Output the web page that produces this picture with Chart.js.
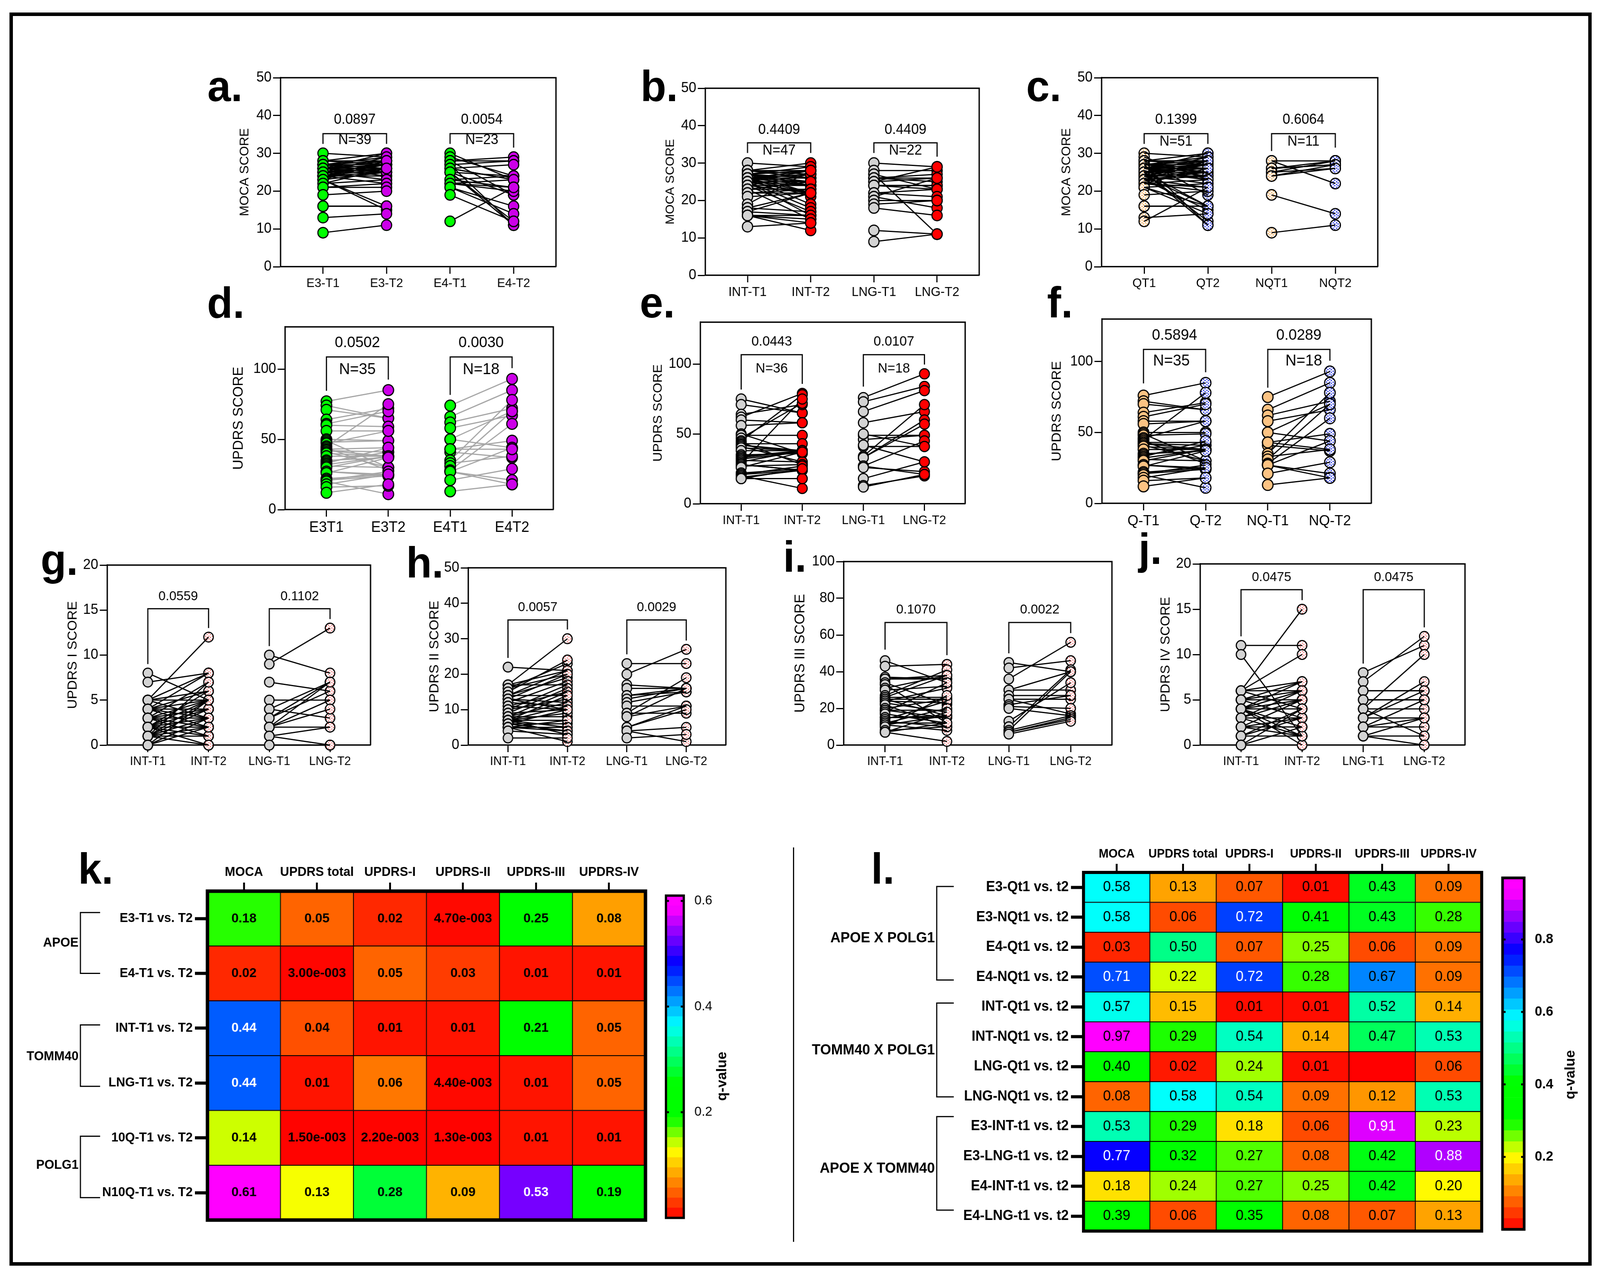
<!DOCTYPE html>
<html lang="en">
  <head>
    <meta charset="UTF-8" />
    <title>MOCA and UPDRS scores</title>
    <script src="https://cdn.jsdelivr.net/npm/chart.js"></script>
    <style>
      html, body { margin: 0; padding: 0; background: #fff; overflow: hidden; }
      #page { position: relative; width: 4219px; height: 3270px; overflow: hidden; background: #fff; transform-origin: 0 0; }
      #frame { position: absolute; left: 25px; top: 32px; width: 4154px; height: 3191px; border: 9px solid #000; }
      #divider { position: absolute; left: 2091px; top: 2170px; width: 3px; height: 1010px; background: #000; }
      canvas { position: absolute; }
      .letter { position: absolute; font: bold 111px "Liberation Sans"; line-height: 1; color: #000; }
    </style>
  </head>
  <body>
    <div id="page">
      <div id="frame"></div>
      <div id="divider"></div>
    </div>
    <script>
      // panel a
      const aLabels = ["E3-T1", "E3-T2", "E4-T1", "E4-T2"];
      const aE3T1 = [30,28,28,28,27,27,27,27,27,26,26,26,26,26,26,25,25,25,25,25,24,24,24,24,24,24,23,23,23,23,22,22,21,21,19,16,16,13,9];
      const aE3T2 = [29,30,28,27,26,29,28,27,25,30,28,27,26,25,24,29,27,26,25,23,28,27,26,25,24,22,28,25,15,16,26,23,22,21,20,16,16,14,11];
      const aE4T1 = [30,29,28,28,28,27,27,26,26,26,25,25,25,25,23,23,22,22,22,21,21,19,12];
      const aE4T2 = [23,24,29,28,19,28,11,27,23,23,24,19,12,11,24,21,23,21,20,16,14,12,21];
      // panel b
      const bLabels = ["INT-T1", "INT-T2", "LNG-T1", "LNG-T2"];
      const bIntT1 = [30,28,28,28,28,27,27,27,27,27,27,27,26,26,26,26,26,26,26,26,26,25,25,25,25,25,25,24,24,24,24,23,23,23,22,22,21,19,18,18,17,17,16,16,16,16,13];
      const bIntT2 = [29,30,28,27,26,29,28,28,26,25,22,24,28,27,27,26,25,24,22,21,19,28,25,24,22,18,16,27,24,22,17,25,23,15,23,22,22,28,22,17,22,16,16,15,12,14,14];
      const bLngT1 = [30,28,27,27,26,26,26,25,25,24,24,24,22,22,21,21,20,20,19,18,12,9];
      const bLngT2 = [29,28,23,11,26,25,27,29,26,24,24,23,23,21,26,18,20,20,20,16,11,11];
      // panel c
      const cLabels = ["QT1", "QT2", "NQT1", "NQT2"];
      const cQT1 = [30,29,28,28,28,28,28,27,27,27,27,27,27,26,26,26,26,26,26,26,25,25,25,25,25,25,25,25,24,24,24,24,24,24,23,23,23,23,23,22,22,22,22,21,21,21,19,16,16,13,12];
      const cQT2 = [29,23,30,28,28,27,19,29,28,27,26,25,11,30,28,27,26,25,24,23,29,27,26,25,23,16,12,11,28,27,25,24,22,16,28,25,24,21,15,26,23,20,21,22,16,14,20,16,16,14,21];
      const cNqT1 = [28,28,26,26,26,25,25,24,24,19,9];
      const cNqT2 = [28,22,28,27,27,28,26,27,26,14,11];
      // panel d
      const dLabels = ["E3T1", "E3T2", "E4T1", "E4T2"];
      const dE3T1 = [77,74,71,64,61,60,56,50,49,48,47,45,44,43,42,42,41,40,38,35,34,33,32,31,30,27,27,26,22,21,21,20,18,16,12];
      const dE3T2 = [85,65,65,72,70,59,56,49,30,49,56,75,28,44,38,41,30,38,38,37,41,44,38,30,38,25,24,37,25,27,24,11,25,17,18];
      const dE4T1 = [74,66,62,58,50,50,43,41,35,33,31,28,27,27,27,21,13,43];
      const dE4T2 = [93,85,72,67,70,44,49,37,78,38,70,61,44,21,18,29,18,43];
      // panel e
      const eLabels = ["INT-T1", "INT-T2", "LNG-T1", "LNG-T2"];
      const eIntT1 = [75,71,64,62,60,56,50,49,47,45,44,43,42,42,41,40,38,35,34,33,32,31,30,29,28,28,27,26,22,21,21,20,19,18,18,18];
      const eIntT2 = [65,65,71,79,58,58,36,49,72,78,28,43,38,37,30,38,38,36,38,38,37,30,38,75,24,24,28,37,25,24,27,11,24,18,18,25];
      const eLngT1 = [76,73,66,58,49,46,41,42,34,33,33,27,27,26,18,13,12,50];
      const eLngT2 = [93,84,81,66,49,49,41,30,71,60,57,45,21,23,30,20,21,41];
      // panel f
      const fLabels = ["Q-T1", "Q-T2", "NQ-T1", "NQ-T2"];
      const fQT1 = [76,72,70,64,61,58,56,50,49,48,46,45,44,43,42,42,41,40,38,35,34,33,32,31,30,27,27,26,22,21,21,20,18,16,12];
      const fQT2 = [85,66,66,71,70,58,58,50,30,49,58,78,28,43,38,41,30,38,38,37,41,44,38,30,38,25,24,37,25,27,24,11,25,18,18];
      const fNqT1 = [75,66,62,58,50,50,43,41,35,33,31,28,27,27,27,21,13,43];
      const fNqT2 = [93,85,72,66,70,44,49,37,78,38,70,60,44,21,18,29,18,38];
      // panel g
      const gLabels = ["INT-T1", "INT-T2", "LNG-T1", "LNG-T2"];
      const gIntT1 = [8,7,5,5,5,5,5,4,4,4,4,4,4,3,3,3,3,3,3,2,2,2,2,2,2,2,1,1,1,1,1,1,1,0,0,0];
      const gIntT2 = [5,8,12,8,6,5,3,8,6,5,4,3,2,7,5,4,3,2,1,6,5,4,3,2,1,0,7,5,4,3,2,1,0,5,3,2];
      const gLngT1 = [10,9,7,5,4,4,3,3,2,2,2,2,1,1,0];
      const gLngT2 = [8,13,6,5,7,3,7,6,7,5,4,2,2,0,0];
      // panel h
      const hLabels = ["INT-T1", "INT-T2", "LNG-T1", "LNG-T2"];
      const hIntT1 = [22,17,17,17,16,16,15,14,14,14,13,13,13,12,12,11,11,10,10,9,9,8,8,8,7,7,7,7,7,7,6,6,6,5,5,5,5,4,2];
      const hIntT2 = [21,30,21,17,23,20,24,21,19,14,20,12,10,18,11,15,10,17,13,16,10,15,12,8,14,11,9,7,5,3,10,6,4,7,5,4,1,3,2];
      const hLngT1 = [23,20,17,16,14,14,13,12,11,9,9,8,8,5,5,4,4,2];
      const hLngT2 = [23,27,16,16,15,16,16,15,11,19,9,11,16,11,10,5,1,3];
      // panel i
      const iLabels = ["INT-T1", "INT-T2", "LNG-T1", "LNG-T2"];
      const iIntT1 = [46,43,37,36,36,34,33,31,30,27,26,26,25,25,24,24,23,22,20,19,19,18,17,15,15,14,13,12,12,11,11,10,8,7,7,7];
      const iIntT2 = [34,44,36,36,38,22,12,38,32,41,38,26,25,16,31,23,18,10,25,19,15,34,12,15,16,24,10,20,12,16,8,27,10,12,2,18];
      const iLngT1 = [45,42,36,30,30,27,25,25,22,21,20,13,10,8,8,7,7,6];
      const iLngT2 = [40,46,56,30,40,27,25,17,27,20,16,34,41,40,16,15,14,13];
      // panel j
      const jLabels = ["INT-T1", "INT-T2", "LNG-T1", "LNG-T2"];
      const jIntT1 = [11,10,6,6,6,6,6,5,5,5,5,4,4,4,4,4,4,4,3,3,3,3,2,2,2,2,1,1,1,0,0];
      const jIntT2 = [11,1,15,10,7,6,4,7,6,5,3,7,6,5,4,2,1,0,6,5,3,1,5,3,2,1,4,3,1,4,2];
      const jLngT1 = [8,7,6,6,5,5,4,4,4,3,3,3,2,2,2,1,1,1];
      const jLngT2 = [11,12,6,6,5,5,10,4,1,7,6,3,5,3,2,3,1,0];

      // heatmap k
      const kRows = ["E3-T1 vs. T2", "E4-T1 vs. T2", "INT-T1 vs. T2", "LNG-T1 vs. T2", "10Q-T1 vs. T2", "N10Q-T1 vs. T2"];
      const kCols = ["MOCA", "UPDRS total", "UPDRS-I", "UPDRS-II", "UPDRS-III", "UPDRS-IV"];
      const kValues = [
        [0.18, 0.05, 0.02, 0.0047, 0.25, 0.08],
        [0.02, 0.003, 0.05, 0.03, 0.01, 0.01],
        [0.44, 0.04, 0.01, 0.01, 0.21, 0.05],
        [0.44, 0.01, 0.06, 0.0044, 0.01, 0.05],
        [0.14, 0.0015, 0.0022, 0.0013, 0.01, 0.01],
        [0.61, 0.13, 0.28, 0.09, 0.53, 0.19],
      ];
      const kTicks = [0.2, 0.4, 0.6];
      // heatmap l
      const lRows = ["E3-Qt1 vs. t2", "E3-NQt1 vs. t2", "E4-Qt1 vs. t2", "E4-NQt1 vs. t2", "INT-Qt1 vs. t2", "INT-NQt1 vs. t2", "LNG-Qt1 vs. t2", "LNG-NQt1 vs. t2", "E3-INT-t1 vs. t2", "E3-LNG-t1 vs. t2", "E4-INT-t1 vs. t2", "E4-LNG-t1 vs. t2"];
      const lCols = ["MOCA", "UPDRS total", "UPDRS-I", "UPDRS-II", "UPDRS-III", "UPDRS-IV"];
      const lValues = [
        [0.58, 0.13, 0.07, 0.01, 0.43, 0.09],
        [0.58, 0.06, 0.72, 0.41, 0.43, 0.28],
        [0.03, 0.50, 0.07, 0.25, 0.06, 0.09],
        [0.71, 0.22, 0.72, 0.28, 0.67, 0.09],
        [0.57, 0.15, 0.01, 0.01, 0.52, 0.14],
        [0.97, 0.29, 0.54, 0.14, 0.47, 0.53],
        [0.40, 0.02, 0.24, 0.01, null, 0.06],
        [0.08, 0.58, 0.54, 0.09, 0.12, 0.53],
        [0.53, 0.29, 0.18, 0.06, 0.91, 0.23],
        [0.77, 0.32, 0.27, 0.08, 0.42, 0.88],
        [0.18, 0.24, 0.27, 0.25, 0.42, 0.20],
        [0.39, 0.06, 0.35, 0.08, 0.07, 0.13],
      ];
      const lTicks = [0.2, 0.4, 0.6, 0.8];

      Chart.defaults.font.family = '"Liberation Sans"';
      Chart.defaults.color = "#000";

      const page = document.getElementById("page");
      // the window can come out narrower than the 4219 layout, so squeeze to fit
      page.style.transform = "scaleX(" + Math.min(1, window.innerWidth / 4219) + ")";

      function addCanvas(left, top, width, height) {
        const c = document.createElement("canvas");
        c.width = width;
        c.height = height;
        c.style.left = left + "px";
        c.style.top = top + "px";
        c.style.width = width + "px";
        c.style.height = height + "px";
        page.appendChild(c);
        return c;
      }

      // white marker fill with small coloured flecks
      function fleck(color, size) {
        const c = document.createElement("canvas");
        c.width = 9;
        c.height = 7;
        const g = c.getContext("2d");
        g.fillStyle = "#fff";
        g.fillRect(0, 0, 9, 7);
        g.fillStyle = color;
        g.fillRect(1, 1, size, size);
        g.fillRect(5, 4, size, size);
        return g.createPattern(c, "repeat");
      }
      const redFleck = fleck("#f01010", 2);
      const blueFleck = fleck("#2030e0", 3);
      const peachFleck = fleck("#f5a850", 3);

      const GREEN = "#00ff00", PURPLE = "#cc00e8", GREY = "#d3d3d3", RED = "#ff0000", PEACH = "#fcc383";

      const panels = [
        { letter: "a.", lx: 547, ly: 260, box: [740, 199, 1466, 683], max: 50, ticks: [0,10,20,30,40,50], labels: aLabels, title: "MOCA SCORE", titleX: 646, g1: [aE3T1, aE3T2], g2: [aE4T1, aE4T2], fills: [GREEN, PURPLE], fonts: { tick: 36, x: 32, title: 33, p: 36, n: 36 }, p: ["0.0897", "0.0054"], n: ["N=39", "N=23"], top: 35.2, legs: [32.5, 32.5, 32.5, 31.5], pY: 38.8, nY: 33.5, r: 13.5 },
        { letter: "b.", lx: 1689, ly: 260, box: [1860, 226, 2582, 705], max: 50, ticks: [0,10,20,30,40,50], labels: bLabels, title: "MOCA SCORE", titleX: 1768, g1: [bIntT1, bIntT2], g2: [bLngT1, bLngT2], fills: [GREY, RED], fonts: { tick: 36, x: 33, title: 32, p: 36, n: 36 }, p: ["0.4409", "0.4409"], n: ["N=47", "N=22"], top: 35.4, legs: [32.7, 32.7, 32.7, 31.7], pY: 38.8, nY: 33.3, r: 13.5 },
        { letter: "c.", lx: 2706, ly: 260, box: [2905, 199, 3633, 683], max: 50, ticks: [0,10,20,30,40,50], labels: cLabels, title: "MOCA SCORE", titleX: 2813, g1: [cQT1, cQT2], g2: [cNqT1, cNqT2], fills: [peachFleck, blueFleck], fonts: { tick: 36, x: 32, title: 33, p: 36, n: 36 }, p: ["0.1399", "0.6064"], n: ["N=51", "N=11"], top: 35.2, legs: [32.5, 32.5, 30.6, 31.5], pY: 38.8, nY: 33, r: 13.5, linesOver: [true, true] },
        { letter: "d.", lx: 546, ly: 815, box: [752, 837, 1459, 1305], max: 130, ticks: [0,50,100], labels: dLabels, title: "UPDRS SCORE", titleX: 630, g1: [dE3T1, dE3T2], g2: [dE4T1, dE4T2], fills: [GREEN, PURPLE], lineColor: "#a6a6a6", fonts: { tick: 36, x: 38, title: 36, p: 39, n: 40 }, p: ["0.0502", "0.0030"], n: ["N=35", "N=18"], top: 108.6, legs: [84.5, 92.5, 81.6, 100.6], pY: 118.6, nY: 99.4, r: 14 },
        { letter: "e.", lx: 1687, ly: 814, box: [1847, 825, 2545, 1290], max: 130, ticks: [0,50,100], labels: eLabels, title: "UPDRS SCORE", titleX: 1735, g1: [eIntT1, eIntT2], g2: [eLngT1, eLngT2], fills: [GREY, RED], fonts: { tick: 36, x: 32, title: 34, p: 35, n: 35 }, p: ["0.0443", "0.0107"], n: ["N=36", "N=18"], top: 106.7, legs: [81.8, 85.8, 83.9, 99.7], pY: 116, nY: 96.7, r: 13 },
        { letter: "f.", lx: 2761, ly: 814, box: [2906, 817, 3616, 1289], max: 130, ticks: [0,50,100], labels: fLabels, title: "UPDRS SCORE", titleX: 2787, g1: [fQT1, fQT2], g2: [fNqT1, fNqT2], fills: [PEACH, blueFleck], fonts: { tick: 36, x: 37, title: 35, p: 39, n: 40 }, p: ["0.5894", "0.0289"], n: ["N=35", "N=18"], top: 108.6, legs: [84.6, 92.5, 81.6, 100.6], pY: 118.5, nY: 100.3, r: 14, nDx: [-0.05, 0.08], linesOver: [false, true] },
        { letter: "g.", lx: 107, ly: 1473, box: [283, 1447, 977, 1908], max: 20, ticks: [0,5,10,15,20], labels: gLabels, title: "UPDRS I SCORE", titleX: 192, g1: [gIntT1, gIntT2], g2: [gLngT1, gLngT2], fills: [GREY, redFleck], fonts: { tick: 36, x: 31, title: 35, p: 34, n: 34 }, p: ["0.0559", "0.1102"], n: [], top: 15.15, legs: [9, 13, 11, 14], pY: 16.5, r: 12.5, linesOver: [false, true] },
        { letter: "h.", lx: 1071, ly: 1480, box: [1235, 1454, 1914, 1908], max: 50, ticks: [0,10,20,30,40,50], labels: hLabels, title: "UPDRS II SCORE", titleX: 1146, g1: [hIntT1, hIntT2], g2: [hLngT1, hLngT2], fills: [GREY, redFleck], fonts: { tick: 36, x: 31, title: 35, p: 34, n: 34 }, p: ["0.0057", "0.0029"], n: [], top: 35.3, legs: [24.6, 32.6, 25.6, 29.5], pY: 38.8, r: 12.5, linesOver: [false, true] },
        { letter: "i.", lx: 2065, ly: 1465, box: [2225, 1438, 2932, 1908], max: 100, ticks: [0,20,40,60,80,100], labels: iLabels, title: "UPDRS III SCORE", titleX: 2111, g1: [iIntT1, iIntT2], g2: [iLngT1, iLngT2], fills: [GREY, redFleck], fonts: { tick: 36, x: 31, title: 36, p: 34, n: 34 }, p: ["0.1070", "0.0022"], n: [], top: 66.8, legs: [52, 49, 50, 61], pY: 73.6, r: 12.5, linesOver: [false, true] },
        { letter: "j.", lx: 3002, ly: 1445, box: [3165, 1444, 3863, 1908], max: 20, ticks: [0,5,10,15,20], labels: jLabels, title: "UPDRS IV SCORE", titleX: 3075, g1: [jIntT1, jIntT2], g2: [jLngT1, jLngT2], fills: [GREY, redFleck], fonts: { tick: 36, x: 31, title: 34.5, p: 34, n: 34 }, p: ["0.0475", "0.0475"], n: [], top: 17.15, legs: [12, 16, 9, 13], pY: 18.5, r: 12.5, linesOver: [false, true] },
      ];

      function addLetter(text, x, baseline) {
        const d = document.createElement("div");
        d.className = "letter";
        d.textContent = text;
        d.style.left = x + "px";
        d.style.top = baseline - 94 + "px";
        page.appendChild(d);
      }

      function drawSlopePanel(p) {
        const [x0, y0, x1, y1] = p.box;
        const marginT = 30, marginR = 30, marginB = 90;
        const canvasLeft = Math.round(p.titleX - 0.6 * p.fonts.title);
        const marginL = x0 - canvasLeft;
        const canvas = addCanvas(canvasLeft, y0 - marginT, x1 - canvasLeft + marginR, y1 - y0 + marginT + marginB);

        const datasets = [];
        const over = p.linesOver || [false, false];
        [p.g1, p.g2].forEach((group, g) => {
          const xa = g * 2, xb = g * 2 + 1;
          group[0].forEach((v, i) => {
            datasets.push({
              data: [{ x: xa, y: v }, { x: xb, y: group[1][i] }],
              showLine: true,
              borderColor: p.lineColor || "#000",
              borderWidth: 3,
              pointRadius: 0,
              order: 20,
              clip: false,
            });
          });
          [xa, xb].forEach((xv, side) => {
            datasets.push({
              data: group[side].map((v) => ({ x: xv, y: v })),
              showLine: false,
              pointRadius: p.r,
              pointBackgroundColor: p.fills[side],
              pointBorderColor: "#000",
              pointBorderWidth: 3,
              order: over[side] ? 30 : 10,
              clip: false,
            });
          });
        });

        const marks = {
          id: "marks",
          afterDraw(chart) {
            const ctx = chart.ctx, xs = chart.scales.x, ys = chart.scales.y, a = chart.chartArea;
            ctx.save();
            ctx.strokeStyle = "#000";
            ctx.lineWidth = 3.5;
            ctx.beginPath();
            ctx.moveTo(a.left, a.top);
            ctx.lineTo(a.right, a.top);
            ctx.lineTo(a.right, a.bottom);
            ctx.stroke();
            ctx.textAlign = "center";
            ctx.textBaseline = "middle";
            ctx.fillStyle = "#000";
            [0, 1].forEach((g) => {
              const xl = xs.getPixelForValue(g * 2), xr = xs.getPixelForValue(g * 2 + 1);
              const yt = ys.getPixelForValue(p.top);
              ctx.lineWidth = 3;
              ctx.beginPath();
              ctx.moveTo(xl, ys.getPixelForValue(p.legs[g * 2]));
              ctx.lineTo(xl, yt);
              ctx.lineTo(xr, yt);
              ctx.lineTo(xr, ys.getPixelForValue(p.legs[g * 2 + 1]));
              ctx.stroke();
              const mid = g * 2 + 0.5;
              ctx.font = p.fonts.p + 'px "Liberation Sans"';
              ctx.fillText(p.p[g], xs.getPixelForValue(mid), ys.getPixelForValue(p.pY));
              if (p.n[g]) {
                const dx = p.nDx ? p.nDx[g] : 0;
                ctx.font = p.fonts.n + 'px "Liberation Sans"';
                ctx.fillText(p.n[g], xs.getPixelForValue(mid + dx), ys.getPixelForValue(p.nY));
              }
            });
            ctx.restore();
          },
        };

        new Chart(canvas.getContext("2d"), {
          type: "scatter",
          data: { datasets },
          plugins: [marks],
          options: {
            responsive: false,
            animation: false,
            devicePixelRatio: 1,
            layout: { padding: { top: marginT, right: marginR } },
            plugins: { legend: { display: false }, tooltip: { enabled: false } },
            scales: {
              x: {
                type: "linear",
                min: -2 / 3,
                max: 3 + 2 / 3,
                afterBuildTicks: (s) => { s.ticks = p.labels.map((_, i) => ({ value: i })); },
                afterFit: (s) => { s.height = marginB; },
                ticks: { callback: (v) => p.labels[v], font: { size: p.fonts.x }, padding: 6, maxRotation: 0, autoSkip: false },
                grid: { drawOnChartArea: false, tickLength: 18, tickWidth: 3, tickColor: "#000" },
                border: { color: "#000", width: 3.5 },
              },
              y: {
                min: 0,
                max: p.max,
                afterBuildTicks: (s) => { s.ticks = p.ticks.map((v) => ({ value: v })); },
                afterFit: (s) => { s.width = marginL; },
                ticks: { font: { size: p.fonts.tick }, padding: 4, autoSkip: false },
                grid: { drawOnChartArea: false, tickLength: 20, tickWidth: 3, tickColor: "#000" },
                border: { color: "#000", width: 3.5 },
                title: { display: true, text: p.title, font: { size: p.fonts.title }, padding: 0 },
              },
            },
          },
        });
        addLetter(p.letter, p.lx, p.ly);
      }

      panels.forEach(drawSlopePanel);

      // rainbow used by both heatmaps: red, yellow, green, cyan, blue, magenta
      const STOPS = [
        [0, 255, 0, 0], [0.21, 255, 255, 0], [0.31, 0, 255, 0], [0.42, 0, 255, 0],
        [0.6, 0, 255, 255], [0.79, 0, 0, 255], [0.96, 255, 0, 255], [1, 255, 0, 255],
      ];
      const LEVELS = 32;
      function rainbow(t) {
        let i = 0;
        while (i < STOPS.length - 2 && t > STOPS[i + 1][0]) i++;
        const a = STOPS[i], b = STOPS[i + 1], u = (t - a[0]) / (b[0] - a[0]);
        const mix = (k) => Math.round(a[k] + (b[k] - a[k]) * u);
        return "rgb(" + mix(1) + "," + mix(2) + "," + mix(3) + ")";
      }

      // 4.70e-003 style for the small q-values
      function formatQ(q) {
        if (q === null) return "";
        if (q >= 0.0095) return q.toFixed(2);
        const [m, e] = q.toExponential(2).split("e-");
        return m + "e-" + e.padStart(3, "0");
      }

      function drawHeatmap(h) {
        const [x0, y0, x1, y1] = h.box;
        const marginL = x0 - h.canvasLeft, marginT = 90, marginB = 20, marginR = 20;
        const canvas = addCanvas(h.canvasLeft, y0 - marginT, x1 - h.canvasLeft + marginR, y1 - y0 + marginT + marginB);

        const datasets = h.cols.map((_, c) => ({
          data: h.rows.map(() => 1),
          backgroundColor: h.rows.map((_, r) => rainbow((h.values[r][c] || 0) / h.qMax)),
          borderColor: "#000",
          borderWidth: 1.5,
          borderSkipped: false,
          barPercentage: 1,
          categoryPercentage: 1,
        }));

        const marks = {
          id: "marks",
          afterDraw(chart) {
            const ctx = chart.ctx, xs = chart.scales.x, ys = chart.scales.y, a = chart.chartArea;
            ctx.save();
            ctx.textAlign = "center";
            ctx.textBaseline = "middle";
            ctx.font = h.cellFont;
            h.values.forEach((row, r) => {
              row.forEach((q, c) => {
                const f = (q || 0) / h.qMax;
                ctx.fillStyle = f > 0.7 && f < 0.98 ? "#fff" : "#000";
                ctx.fillText(formatQ(q), xs.getPixelForValue(c + 0.5), ys.getPixelForValue(r));
              });
            });
            ctx.strokeStyle = "#000";
            ctx.lineWidth = h.border;
            ctx.strokeRect(a.left, a.top, a.right - a.left, a.bottom - a.top);
            ctx.lineWidth = 3;
            ctx.fillStyle = "#000";
            ctx.textAlign = "right";
            ctx.font = h.groupFont;
            h.groups.forEach((g) => {
              const bx0 = h.bracketX[0] - h.canvasLeft, bx1 = h.bracketX[1] - h.canvasLeft;
              ctx.beginPath();
              ctx.moveTo(bx1, ys.getPixelForValue(g.from));
              ctx.lineTo(bx0, ys.getPixelForValue(g.from));
              ctx.lineTo(bx0, ys.getPixelForValue(g.to));
              ctx.lineTo(bx1, ys.getPixelForValue(g.to));
              ctx.stroke();
              ctx.fillText(g.name, bx0 - 5, ys.getPixelForValue(g.at));
            });
            ctx.restore();
          },
        };

        new Chart(canvas.getContext("2d"), {
          type: "bar",
          data: { labels: h.rows, datasets },
          plugins: [marks],
          options: {
            indexAxis: "y",
            responsive: false,
            animation: false,
            devicePixelRatio: 1,
            layout: { padding: { right: marginR, bottom: marginB } },
            plugins: { legend: { display: false }, tooltip: { enabled: false } },
            scales: {
              x: {
                position: "top",
                stacked: true,
                min: 0,
                max: h.cols.length,
                afterBuildTicks: (s) => { s.ticks = h.cols.map((_, i) => ({ value: i + 0.5 })); },
                afterFit: (s) => { s.height = marginT; },
                ticks: { callback: (v) => h.cols[v - 0.5], font: { size: h.colSize, weight: "bold" }, padding: 6, maxRotation: 0, autoSkip: false },
                grid: { drawOnChartArea: false, tickLength: 22, tickWidth: 5, tickColor: "#000" },
                border: { display: false },
              },
              y: {
                stacked: true,
                afterFit: (s) => { s.width = marginL; },
                ticks: { font: { size: h.rowSize, weight: "bold" }, padding: 6, autoSkip: false },
                grid: { offset: false, drawOnChartArea: false, tickLength: 33, tickWidth: 8, tickColor: "#000" },
                border: { display: false },
              },
            },
          },
        });
        addLetter(h.letter, h.lx, h.ly);
      }

      function drawColorbar(b) {
        const [x0, y0, x1, y1] = b.box;
        const marginT = 30, marginB = 30, marginR = b.right;
        const canvas = addCanvas(x0 - 10, y0 - marginT, x1 - x0 + 10 + marginR, y1 - y0 + marginT + marginB);
        const step = b.qMax / LEVELS;
        const datasets = [];
        for (let i = 0; i < LEVELS; i++) {
          datasets.push({
            data: [[i * step, (i + 1) * step]],
            backgroundColor: rainbow((i + 0.5) / LEVELS),
            barPercentage: 1,
            categoryPercentage: 1,
            grouped: false,
          });
        }
        const marks = {
          id: "marks",
          afterDraw(chart) {
            const ctx = chart.ctx, ys = chart.scales.y, a = chart.chartArea;
            ctx.save();
            ctx.strokeStyle = "#000";
            ctx.lineWidth = b.border;
            ctx.strokeRect(a.left, a.top, a.right - a.left, a.bottom - a.top);
            ctx.lineWidth = 5;
            b.ticks.forEach((v) => {
              const y = ys.getPixelForValue(v);
              ctx.beginPath();
              ctx.moveTo(a.left, y);
              ctx.lineTo(a.left + 8, y);
              ctx.moveTo(a.right - 8, y);
              ctx.lineTo(a.right, y);
              ctx.stroke();
            });
            ctx.translate(b.titleX - x0 + 10, b.titleY - y0 + marginT);
            ctx.rotate(-Math.PI / 2);
            ctx.textAlign = "center";
            ctx.textBaseline = "middle";
            ctx.fillStyle = "#000";
            ctx.font = 'bold 36px "Liberation Sans"';
            ctx.fillText("q-value", 0, 0);
            ctx.restore();
          },
        };
        new Chart(canvas.getContext("2d"), {
          type: "bar",
          data: { labels: ["q"], datasets },
          plugins: [marks],
          options: {
            responsive: false,
            animation: false,
            devicePixelRatio: 1,
            layout: { padding: { left: 10, top: marginT, bottom: marginB } },
            plugins: { legend: { display: false }, tooltip: { enabled: false } },
            scales: {
              x: { display: false },
              y: {
                position: "right",
                min: 0,
                max: b.qMax,
                afterBuildTicks: (s) => { s.ticks = b.ticks.map((v) => ({ value: v })); },
                afterFit: (s) => { s.width = marginR; },
                ticks: { callback: (v) => v.toFixed(1), font: b.tickFont, padding: 20, autoSkip: false },
                grid: { display: false },
                border: { display: false },
              },
            },
          },
        });
      }

      drawHeatmap({
        letter: "k.", lx: 206, ly: 2264,
        box: [547, 2282, 1702, 3130], canvasLeft: 40,
        rows: kRows, cols: kCols, values: kValues, qMax: 0.61,
        border: 9, colSize: 33, rowSize: 33,
        cellFont: 'bold 34px "Liberation Sans"', groupFont: 'bold 33px "Liberation Sans"',
        bracketX: [212, 264],
        groups: [
          { name: "APOE", from: -0.11, to: 1, at: 0.45 },
          { name: "TOMM40", from: 1.94, to: 3.06, at: 2.52 },
          { name: "POLG1", from: 3.97, to: 5.09, at: 4.5 },
        ],
      });
      drawColorbar({ box: [1756, 2283, 1803, 3129], qMax: 0.61, ticks: kTicks, border: 6, right: 150, titleX: 1905, titleY: 2756, tickFont: { size: 34 } });

      drawHeatmap({
        letter: "l.", lx: 2297, ly: 2264,
        box: [2857, 2234, 3907, 3160], canvasLeft: 2100,
        rows: lRows, cols: lCols, values: lValues, qMax: 0.97,
        border: 8, colSize: 31, rowSize: 36,
        cellFont: '37px "Liberation Sans"', groupFont: 'bold 37px "Liberation Sans"',
        bracketX: [2470, 2515],
        groups: [
          { name: "APOE X POLG1", from: -0.03, to: 3.1, at: 1.71 },
          { name: "TOMM40 X POLG1", from: 3.87, to: 7.01, at: 5.46 },
          { name: "APOE X TOMM40", from: 7.67, to: 10.8, at: 9.41 },
        ],
      });
      drawColorbar({ box: [3962, 2237, 4019, 3159], qMax: 0.97, ticks: lTicks, border: 7, right: 150, titleX: 4142, titleY: 2752, tickFont: { size: 35, weight: "bold" } });
    </script>
  </body>
</html>
